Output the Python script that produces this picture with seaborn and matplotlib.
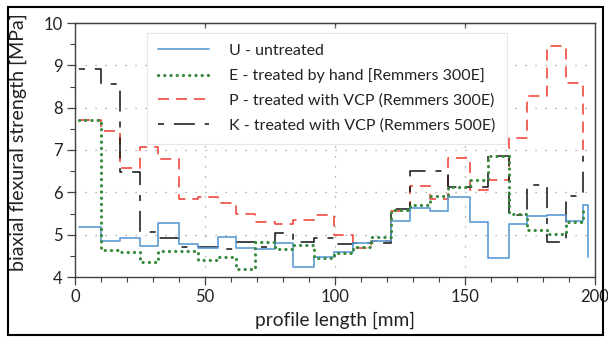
import matplotlib
matplotlib.use("Agg")
import matplotlib.pyplot as plt
import seaborn as sns
from matplotlib.patches import Rectangle
from matplotlib.ticker import MultipleLocator

sns.set_style("ticks")
plt.rcParams["font.family"] = ["Lato", "DejaVu Sans"]

# Step boundaries along the profile [mm]
edges = [1.5, 9.9, 17.3, 24.9, 32.0, 40.0, 47.4, 55.0, 62.0, 69.2, 76.9, 84.0,
         91.8, 99.5, 106.9, 113.9, 121.6, 128.8, 136.4, 143.5, 151.8, 159.0,
         166.8, 173.8, 181.5, 189.0, 195.3]

# Biaxial flexural strength per segment [MPa]; last entry is the end value
untreated = [5.18, 4.84, 4.92, 4.73, 5.28, 4.78, 4.69, 4.94, 4.68, 4.65, 4.80,
             4.23, 4.47, 4.58, 4.81, 4.84, 5.33, 5.63, 5.57, 5.88, 5.31, 4.44,
             5.25, 5.43, 5.46, 5.32, 5.69, 4.48]
untreated_end = 197.2

by_hand = [7.71, 4.64, 4.60, 4.35, 4.62, 4.62, 4.40, 4.47, 4.20, 4.83, 4.65,
           4.76, 4.46, 4.57, 4.70, 4.95, 5.58, 5.70, 5.92, 6.12, 6.30, 6.86,
           5.48, 5.10, 5.01, 5.30, 5.66]

vcp_300e = [7.71, 7.44, 6.57, 7.07, 6.79, 5.84, 5.88, 5.74, 5.49, 5.31, 5.25,
            5.35, 5.47, 4.99, 4.68, 4.85, 5.55, 6.16, 5.85, 6.80, 6.06, 6.29,
            7.28, 8.27, 9.46, 8.58, 7.00]

vcp_500e = [8.92, 8.55, 6.47, 5.07, 4.93, 4.72, 4.72, 4.66, 4.83, 4.72, 5.05,
            4.83, 4.91, 4.78, 4.80, 4.80, 5.60, 6.51, 6.50, 6.12, 6.12, 6.86,
            5.47, 6.17, 4.83, 5.91, 6.92]

labels = ["U - untreated",
          "E - treated by hand [Remmers 300E]",
          "P - treated with VCP (Remmers 300E)",
          "K - treated with VCP (Remmers 500E)"]

fig = plt.figure(figsize=(6.08, 3.39), dpi=100)
ax = fig.add_axes([75 / 608, 1 - 277 / 339, 520 / 608, 254 / 339])

common = dict(ax=ax, drawstyle="steps-post", sort=False, estimator=None)

sns.lineplot(x=edges + [untreated_end], y=untreated, color="#5B9BD5",
             lw=1.2, label=labels[0], zorder=3, **common)
sns.lineplot(x=edges, y=by_hand, color="#3A8A3E", lw=2.3,
             linestyle=(0, (0.05, 1.9)), dash_capstyle="round",
             label=labels[1], zorder=4, **common)
sns.lineplot(x=edges, y=vcp_300e, color="#F03A2E", lw=1.1,
             linestyle=(0, (7.2, 4.6)), label=labels[2], zorder=2, **common)
sns.lineplot(x=edges, y=vcp_500e, color="#111111", lw=1.1,
             linestyle=(0, (3.9, 6.5, 13.7, 6.5)), label=labels[3], zorder=2,
             **common)

ax.set_xlim(0, 200)
ax.set_ylim(4, 10)
ax.xaxis.set_major_locator(MultipleLocator(50))
ax.xaxis.set_minor_locator(MultipleLocator(10))
ax.yaxis.set_major_locator(MultipleLocator(1))
ax.yaxis.set_minor_locator(MultipleLocator(0.5))

ax.grid(True, which="major", color="#9a9a9a", lw=0.9, linestyle=(0, (1, 7)))
ax.set_axisbelow(True)

for side in ["left", "bottom", "top", "right"]:
    ax.spines[side].set_visible(True)
    ax.spines[side].set_color("#404040")
    ax.spines[side].set_linewidth(1.0)

ax.tick_params(axis="both", which="major", direction="out", length=6,
               width=0.9, color="#404040", labelsize=12, pad=3,
               labelcolor="#222222")
ax.tick_params(axis="both", which="minor", direction="out", length=3.5,
               width=0.8, color="#404040")

# short inward ticks along the top edge
top = ax.secondary_xaxis("top")
top.set_xticks([50, 100, 150])
top.tick_params(direction="in", length=3.5, width=0.9, color="#404040",
                labeltop=False)
top.spines["top"].set_color("#404040")

ax.set_xlabel("profile length [mm]", fontsize=13.8, color="#222222")
ax.xaxis.set_label_coords(0.5, -0.138)
ax.set_ylabel("biaxial flexural strength [MPa]", fontsize=14.1,
              color="#222222")
ax.yaxis.set_label_coords(-0.093, 0.53)

leg = ax.legend(loc="upper left", bbox_to_anchor=(0.1385, 0.962),
                fontsize=11.5, frameon=True, fancybox=False, framealpha=1,
                edgecolor="#e6e6e6", facecolor="white", handlelength=3.2,
                handletextpad=1.25, labelspacing=0.65, borderpad=0.7,
                borderaxespad=0)
leg.get_frame().set_linewidth(0.8)
for t in leg.get_texts():
    t.set_color("#222222")

fig.add_artist(Rectangle((8 / 608, 1 - 335 / 339), 595 / 608, 328 / 339,
                         transform=fig.transFigure, fill=False, lw=1.5,
                         ec="black"))

fig.savefig("out.png", dpi=100)
